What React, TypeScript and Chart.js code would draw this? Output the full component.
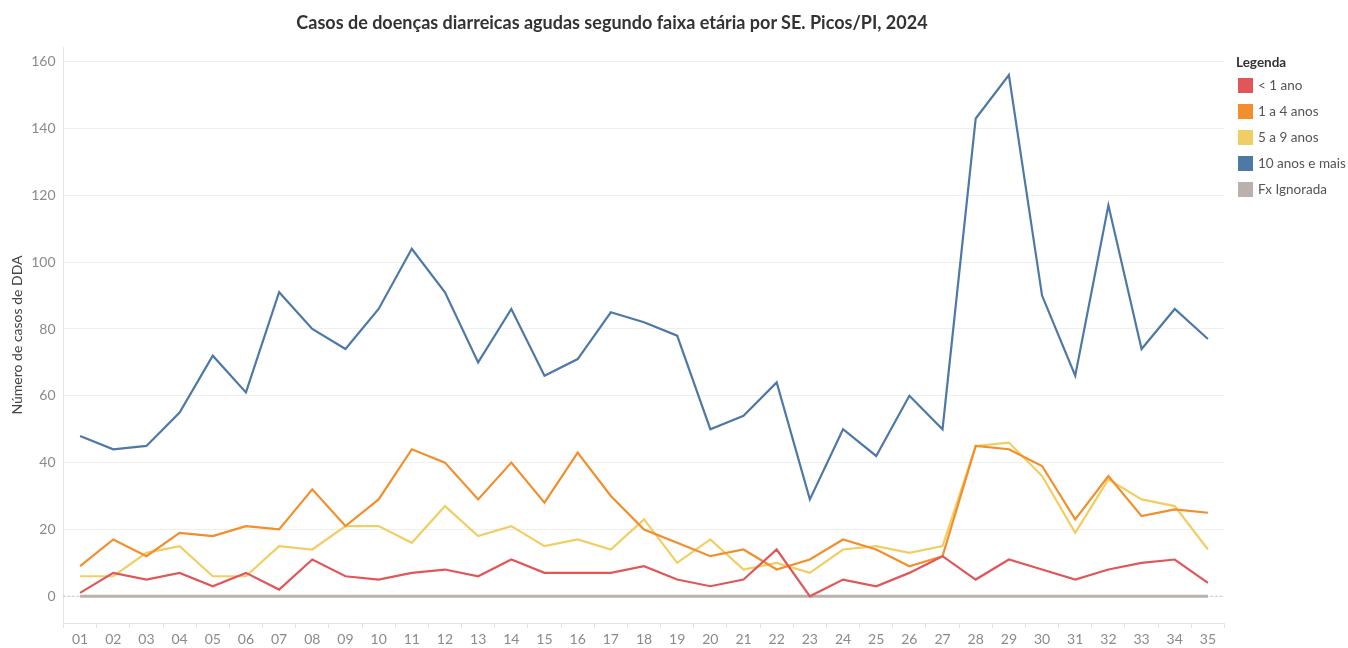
import React, { useEffect, useRef } from "react";
import { Chart, registerables } from "chart.js";

Chart.register(...registerables);

const TITLE = "Casos de doenças diarreicas agudas segundo faixa etária por SE. Picos/PI, 2024";
const Y_TITLE = "Número de casos de DDA";
const LEGEND_TITLE = "Legenda";

const weeks = [
  "01", "02", "03", "04", "05", "06", "07", "08", "09", "10",
  "11", "12", "13", "14", "15", "16", "17", "18", "19", "20",
  "21", "22", "23", "24", "25", "26", "27", "28", "29", "30",
  "31", "32", "33", "34", "35",
];

const yTicks = [0, 20, 40, 60, 80, 100, 120, 140, 160];

const seriesNames = ["< 1 ano", "1 a 4 anos", "5 a 9 anos", "10 anos e mais", "Fx Ignorada"];
const seriesColors = ["#e15759", "#f28e2b", "#f1ce63", "#4e79a7", "#bab0ac"];

const menor1 = [1, 7, 5, 7, 3, 7, 2, 11, 6, 5, 7, 8, 6, 11, 7, 7, 7, 9, 5, 3, 5, 14, 0, 5, 3, 7, 12, 5, 11, 8, 5, 8, 10, 11, 4];
const de1a4 = [9, 17, 12, 19, 18, 21, 20, 32, 21, 29, 44, 40, 29, 40, 28, 43, 30, 20, 16, 12, 14, 8, 11, 17, 14, 9, 12, 45, 44, 39, 23, 36, 24, 26, 25];
const de5a9 = [6, 6, 13, 15, 6, 6, 15, 14, 21, 21, 16, 27, 18, 21, 15, 17, 14, 23, 10, 17, 8, 10, 7, 14, 15, 13, 15, 45, 46, 36, 19, 35, 29, 27, 14];
const mais10 = [48, 44, 45, 55, 72, 61, 91, 80, 74, 86, 104, 91, 70, 86, 66, 71, 85, 82, 78, 50, 54, 64, 29, 50, 42, 60, 50, 143, 156, 90, 66, 117, 74, 86, 77];
const ignorada = [0, 0, 0, 0, 0, 0, 0, 0, 0, 0, 0, 0, 0, 0, 0, 0, 0, 0, 0, 0, 0, 0, 0, 0, 0, 0, 0, 0, 0, 0, 0, 0, 0, 0, 0];

const seriesValues = [menor1, de1a4, de5a9, mais10, ignorada];
const seriesWidths = [2.2, 2.2, 2.2, 2.2, 3];

const FONT = "Lato, 'Open Sans', sans-serif";

const zeroLinePlugin = {
  id: "zeroLine",
  beforeDatasetsDraw(chart: any) {
    const { ctx, chartArea, scales } = chart;
    const y = scales.y.getPixelForValue(0);
    ctx.save();
    ctx.strokeStyle = "#b5b5b5";
    ctx.lineWidth = 1;
    ctx.setLineDash([1.5, 3]);
    ctx.beginPath();
    ctx.moveTo(chartArea.left, y);
    ctx.lineTo(chartArea.right, y);
    ctx.stroke();
    ctx.restore();
  },
};

export default function App() {
  const canvasRef = useRef<HTMLCanvasElement | null>(null);

  useEffect(() => {
    if (!canvasRef.current) return;
    const chart = new Chart(canvasRef.current, {
      type: "line",
      data: {
        labels: weeks,
        datasets: seriesNames.map((name, i) => ({
          label: name,
          data: seriesValues[i],
          borderColor: seriesColors[i],
          backgroundColor: seriesColors[i],
          borderWidth: seriesWidths[i],
          pointRadius: 0,
          pointHoverRadius: 0,
          tension: 0,
          fill: false,
        })),
      },
      options: {
        animation: false,
        responsive: true,
        maintainAspectRatio: false,
        layout: { padding: { left: 0, top: 47, right: 123.5, bottom: 0 } },
        plugins: {
          legend: { display: false },
          title: { display: false },
          tooltip: { enabled: false },
        },
        scales: {
          x: {
            type: "category",
            offset: true,
            grid: {
              offset: true,
              drawOnChartArea: false,
              drawTicks: true,
              tickLength: 5,
              color: "#e4e4e4",
            },
            border: { display: true, color: "#e4e4e4" },
            ticks: {
              color: "#8a8a8a",
              font: { family: FONT, size: 14 },
              padding: 3,
              maxRotation: 0,
              autoSkip: false,
            },
            afterFit: (axis: any) => {
              axis.height = 25;
            },
          },
          y: {
            min: -8,
            max: 164.4,
            afterBuildTicks: (axis: any) => {
              axis.ticks = yTicks.map((v) => ({ value: v }));
            },
            afterFit: (axis: any) => {
              axis.width = 63.5;
            },
            grid: {
              color: "#efefef",
              drawTicks: false,
            },
            border: { display: true, color: "#e4e4e4" },
            ticks: {
              color: "#8a8a8a",
              font: { family: FONT, size: 14 },
              padding: 8,
            },
            title: {
              display: true,
              text: Y_TITLE,
              color: "#444444",
              font: { family: FONT, size: 14 },
              padding: { top: 9, bottom: 0 },
            },
          },
        },
      },
      plugins: [zeroLinePlugin],
    });
    return () => chart.destroy();
  }, []);

  return (
    <div style={{ position: "absolute", left: 0, top: 0, width: 1348, height: 648, background: "#ffffff", fontFamily: FONT }}>
      <div style={{ position: "absolute", left: 0, top: 0, width: 1348, height: 648 }}>
        <canvas ref={canvasRef} />
      </div>
      <div
        style={{
          position: "absolute",
          left: 0,
          top: 10,
          width: 1224,
          textAlign: "center",
          fontWeight: 700,
          fontSize: 18,
          color: "#333333",
          lineHeight: "24px",
          whiteSpace: "nowrap",
        }}
      >
        {TITLE}
      </div>
      <div style={{ position: "absolute", left: 1236, top: 54, fontSize: 13.5 }}>
        <div style={{ fontWeight: 700, color: "#333333", lineHeight: "16px", marginBottom: 2 }}>{LEGEND_TITLE}</div>
        {seriesNames.map((name, i) => (
          <div key={name} style={{ display: "flex", alignItems: "center", height: 26, marginLeft: 2 }}>
            <span style={{ display: "inline-block", width: 15, height: 15, background: seriesColors[i], marginRight: 5 }} />
            <span style={{ color: "#555555", whiteSpace: "nowrap" }}>{name}</span>
          </div>
        ))}
      </div>
    </div>
  );
}
